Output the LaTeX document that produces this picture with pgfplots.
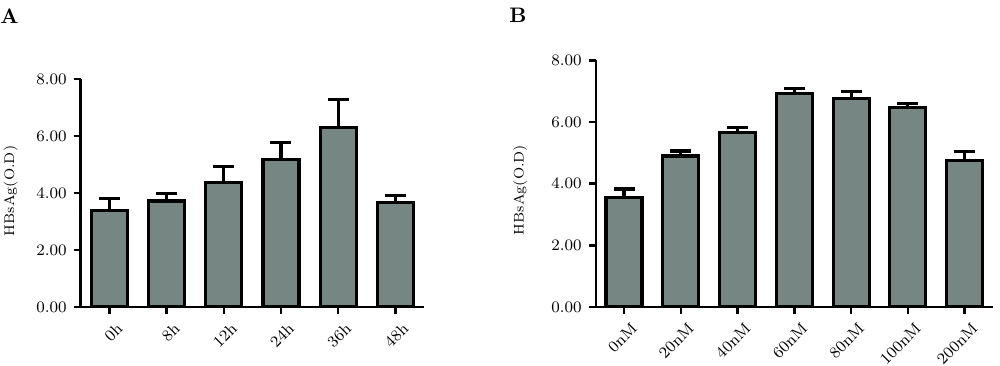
\documentclass[border=0pt]{standalone}
\usepackage{pgfplots}
\pgfplotsset{compat=1.18}
\definecolor{barfill}{RGB}{118,134,131}
\pgfplotsset{
  myaxis/.style={
    scale only axis,
    axis x line=bottom, axis y line=left,
    axis line style={-, line width=1.2pt},
    ymin=0, ymax=8,
    ytick={0,2,4,6,8},
    yticklabel style={/pgf/number format/.cd, fixed, fixed zerofill, precision=2},
    tick style={black, line width=1.2pt},
    major tick length=3.5pt,
    tick align=outside,
    xtick=data,
    tick label style={font=\fontsize{8}{9}\selectfont},
    xticklabel style={rotate=45, anchor=north east, xshift=3pt, yshift=-1.5pt},
    ylabel={HBsAg(O.D)},
    ylabel style={font=\fontsize{7}{8}\selectfont, anchor=center},
    ybar, bar width=18pt,
  },
  mybars/.style={
    fill=barfill, draw=black, line width=1.6pt,
    error bars/y dir=plus, error bars/y explicit,
    error bars/error mark options={black, rotate=90, mark size=5.25pt, line width=1.6pt},
    error bars/error bar style={black, line width=1.6pt},
  }
}
\begin{document}
\begin{tikzpicture}
\path[use as bounding box] (0,0) rectangle (500pt,182.5pt);
\node[anchor=north west, inner sep=0pt, font=\fontsize{10.5}{12}\selectfont\bfseries] at (0pt,178.5pt) {A};
\node[anchor=north west, inner sep=0pt, font=\fontsize{10.5}{12}\selectfont\bfseries] at (254.5pt,178.5pt) {B};
\begin{axis}[myaxis, at={(40.35pt,29pt)}, anchor=south west,
  width=171.65pt, height=114pt,
  xmin=-0.5, xmax=5.5,
  xticklabels={0h,8h,12h,24h,36h,48h},
  ylabel style={at={(axis description cs:-0.204,0.509)}},
]
\addplot[mybars] coordinates {
 (0,3.40) +- (0,0.40)
 (1,3.72) +- (0,0.27)
 (2,4.36) +- (0,0.58)
 (3,5.19) +- (0,0.59)
 (4,6.29) +- (0,0.98)
 (5,3.67) +- (0,0.25)
};
\end{axis}
\begin{axis}[myaxis, at={(297.85pt,29pt)}, anchor=south west,
  width=198.65pt, height=123.35pt,
  xmin=-0.5, xmax=6.5,
  xticklabels={0nM,20nM,40nM,60nM,80nM,100nM,200nM},
  ylabel style={at={(axis description cs:-0.1905,0.474)}},
]
\addplot[mybars] coordinates {
 (0,3.54) +- (0,0.29)
 (1,4.90) +- (0,0.16)
 (2,5.67) +- (0,0.15)
 (3,6.92) +- (0,0.16)
 (4,6.76) +- (0,0.23)
 (5,6.47) +- (0,0.14)
 (6,4.76) +- (0,0.28)
};
\end{axis}
\end{tikzpicture}
\end{document}
